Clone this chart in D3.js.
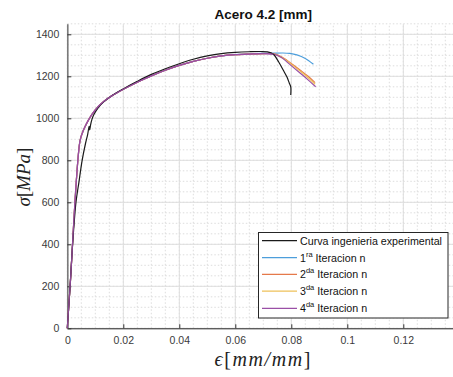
<!DOCTYPE html>
<html><head><meta charset="utf-8">
<script src="https://cdn.jsdelivr.net/npm/d3@7"></script>
<style>body{margin:0;background:#fff}svg{display:block}</style>
</head><body>
<script>
// ---- data ----
const titleText = "Acero 4.2 [mm]";
const xTicks = [0, 0.02, 0.04, 0.06, 0.08, 0.1, 0.12];
const yTicks = [0, 200, 400, 600, 800, 1000, 1200, 1400];
const xDomain = [0, 0.14];
const yDomain = [0, 1450];

const experimental = [[0,0],[0.001,200],[0.0019,400],[0.0031,600],[0.0042,700],[0.0053,800],[0.0065,880],[0.0073,925],[0.0078,962],[0.0080,945],[0.0083,968],[0.0088,995],[0.0095,1018],[0.011,1050],[0.013,1078],[0.016,1108],[0.02,1140],[0.025,1176],[0.03,1209],[0.035,1236],[0.04,1260],[0.045,1281],[0.05,1297],[0.055,1308],[0.06,1314],[0.065,1317],[0.069,1318],[0.0715,1316],[0.0736,1305],[0.0755,1268],[0.0771,1230],[0.0785,1195],[0.0793,1167],[0.0798,1150],[0.0798,1111]];

const iter1 = [[0,0],[0.001,200],[0.0045,890],[0.0055,935],[0.0065,965],[0.0075,990],[0.009,1022],[0.011,1055],[0.013,1080],[0.016,1108],[0.02,1138],[0.025,1172],[0.03,1202],[0.035,1229],[0.04,1252],[0.045,1271],[0.05,1286],[0.055,1297],[0.06,1303],[0.065,1307],[0.07,1309],[0.0736,1310],[0.077,1311],[0.0795,1309],[0.082,1302],[0.085,1285],[0.0879,1257]];
const iter2 = [[0,0],[0.001,200],[0.0045,890],[0.0055,935],[0.0065,965],[0.0075,990],[0.009,1022],[0.011,1055],[0.013,1080],[0.016,1108],[0.02,1138],[0.025,1172],[0.03,1202],[0.035,1229],[0.04,1252],[0.045,1271],[0.05,1286],[0.055,1297],[0.06,1303],[0.065,1306],[0.07,1308],[0.0736,1308],[0.0765,1293],[0.0783,1278],[0.0805,1256],[0.0831,1230],[0.086,1200],[0.0885,1170]];
const iter3 = [[0,0],[0.001,200],[0.0045,890],[0.0055,935],[0.0065,965],[0.0075,990],[0.009,1022],[0.011,1055],[0.013,1080],[0.016,1108],[0.02,1138],[0.025,1172],[0.03,1202],[0.035,1229],[0.04,1252],[0.045,1271],[0.05,1286],[0.055,1297],[0.06,1303],[0.065,1306],[0.07,1308],[0.0736,1307],[0.0765,1290],[0.0783,1275],[0.0805,1252],[0.0831,1225],[0.086,1193],[0.0885,1162]];
const iter4 = [[0,0],[0.001,200],[0.0045,890],[0.0055,935],[0.0065,965],[0.0075,990],[0.009,1022],[0.011,1055],[0.013,1080],[0.016,1108],[0.02,1138],[0.025,1172],[0.03,1202],[0.035,1229],[0.04,1252],[0.045,1271],[0.05,1286],[0.055,1297],[0.06,1303],[0.065,1306],[0.07,1308],[0.0736,1306],[0.0765,1290],[0.0783,1270],[0.0805,1245],[0.083,1217],[0.086,1183],[0.0887,1150]];

const seriesNames = ["Curva ingenieria experimental", "1|ra| Iteracion n", "2|da| Iteracion n", "3|da| Iteracion n", "4|da| Iteracion n"];
const seriesColors = ["#1a1a1a", "#4d9edb", "#e5794a", "#eec15a", "#9a4fa6"];
const seriesData = [experimental, iter1, iter2, iter3, iter4];

// ---- layout ----
const W = 453, H = 377;
const m = {left: 67.3, top: 23.8, plotW: 392, plotH: 304.5};
const svg = d3.select("body").append("svg").attr("width", W).attr("height", H);
svg.append("rect").attr("width", W).attr("height", H).attr("fill", "#fff");

const x = d3.scaleLinear().domain(xDomain).range([m.left, m.left + m.plotW]);
const y = d3.scaleLinear().domain(yDomain).range([m.top + m.plotH, m.top]);

// minor grid
const xMinor = d3.range(0, 0.1401, 0.005);
const yMinor = d3.range(0, 1451, 50);
const g = svg.append("g");
g.selectAll(".xm").data(xMinor).join("line")
  .attr("x1", d => x(d)).attr("x2", d => x(d)).attr("y1", y(yDomain[0])).attr("y2", y(yDomain[1]))
  .attr("stroke", "#d4d4d4").attr("stroke-width", 0.8).attr("stroke-dasharray", "1.5,2");
g.selectAll(".ym").data(yMinor).join("line")
  .attr("y1", d => y(d)).attr("y2", d => y(d)).attr("x1", x(xDomain[0])).attr("x2", x(xDomain[1]))
  .attr("stroke", "#d4d4d4").attr("stroke-width", 0.8).attr("stroke-dasharray", "1.5,2");
// major grid
g.selectAll(".xg").data(xTicks.concat([0.14])).join("line")
  .attr("x1", d => x(d)).attr("x2", d => x(d)).attr("y1", y(yDomain[0])).attr("y2", y(yDomain[1]))
  .attr("stroke", "#dedede").attr("stroke-width", 1);
g.selectAll(".yg").data(yTicks).join("line")
  .attr("y1", d => y(d)).attr("y2", d => y(d)).attr("x1", x(xDomain[0])).attr("x2", x(xDomain[1]))
  .attr("stroke", "#dedede").attr("stroke-width", 1);

// axes
const xAxis = d3.axisBottom(x).tickValues(xTicks).tickSizeInner(-4).tickSizeOuter(0).tickPadding(8)
  .tickFormat(d => d === 0 ? "0" : String(+d.toFixed(2)));
const yAxis = d3.axisLeft(y).tickValues(yTicks).tickSizeInner(-4).tickSizeOuter(0).tickPadding(8)
  .tickFormat(d3.format("d"));
const gx = svg.append("g").attr("transform", `translate(0,${y(0)})`).call(xAxis);
const gy = svg.append("g").attr("transform", `translate(${x(0)},0)`).call(yAxis);
[gx, gy].forEach(a => {
  a.selectAll("text").attr("font-family", "Liberation Sans, Arial, sans-serif").attr("font-size", 10.5).attr("fill", "#3a3a3a");
  a.selectAll(".tick line").attr("stroke", "#333");
});
gx.select(".domain").attr("stroke", "#262626").attr("stroke-width", 1);
gy.select(".domain").attr("stroke", "#7a7a7a").attr("stroke-width", 1.6);
gx.selectAll("text").attr("dy", "0.71em");

// lines
const line = d3.line().x(d => x(d[0])).y(d => y(d[1])).curve(d3.curveCatmullRom.alpha(0.5));
const order = [1, 2, 3, 4, 0];
order.forEach(i => {
  svg.append("path").datum(seriesData[i]).attr("d", line)
    .attr("fill", "none").attr("stroke", seriesColors[i]).attr("stroke-width", 1.2)
    .attr("stroke-linejoin", "round");
});
// purple drawn again over the elastic / early hardening range
svg.append("path").datum(iter4.slice(0, 22)).attr("d", line)
  .attr("fill", "none").attr("stroke", seriesColors[4]).attr("stroke-width", 1.2).attr("opacity", 0.9);

// title
svg.append("text").attr("x", x(0.07)).attr("y", 18.5).attr("text-anchor", "middle")
  .attr("font-family", "Liberation Sans, Arial, sans-serif").attr("font-weight", "bold").attr("font-size", 13.5)
  .attr("fill", "#111").text(titleText);

// axis labels (LaTeX-like)
const xl = svg.append("text").attr("x", x(0.07)).attr("y", 366).attr("text-anchor", "middle")
  .attr("font-family", "Liberation Serif, serif").attr("font-size", 20).attr("letter-spacing", 1.6).attr("fill", "#222");
xl.append("tspan").attr("font-style", "italic").text("ϵ");
xl.append("tspan").text("[");
xl.append("tspan").attr("font-style", "italic").text("mm/mm");
xl.append("tspan").text("]");

const yl = svg.append("text").attr("transform", `translate(30,${y(720)}) rotate(-90)`).attr("text-anchor", "middle")
  .attr("font-family", "Liberation Serif, serif").attr("font-size", 19).attr("fill", "#222");
yl.append("tspan").attr("font-style", "italic").text("σ");
yl.append("tspan").text("[");
yl.append("tspan").attr("font-style", "italic").text("MPa");
yl.append("tspan").text("]");

// legend
const lg = svg.append("g");
lg.append("rect").attr("x", 258.5).attr("y", 232.5).attr("width", 189.5).attr("height", 85.5)
  .attr("fill", "#fff").attr("stroke", "#262626").attr("stroke-width", 1);
const rowY = [240.7, 257.7, 274.4, 291.1, 308.3];
seriesNames.forEach((name, i) => {
  lg.append("line").attr("x1", 262).attr("x2", 297).attr("y1", rowY[i]).attr("y2", rowY[i])
    .attr("stroke", seriesColors[i]).attr("stroke-width", 1.2);
  const t = lg.append("text").attr("x", 300).attr("y", rowY[i] + 4)
    .attr("font-family", "Liberation Sans, Arial, sans-serif").attr("font-size", 10.7).attr("fill", "#111");
  const parts = name.split("|");
  if (parts.length === 3) {
    t.append("tspan").text(parts[0]);
    t.append("tspan").attr("font-size", 7.5).attr("dy", -5).text(parts[1]);
    t.append("tspan").attr("dy", 5).text(parts[2]);
  } else {
    t.text(name);
  }
});
</script>
</body></html>
